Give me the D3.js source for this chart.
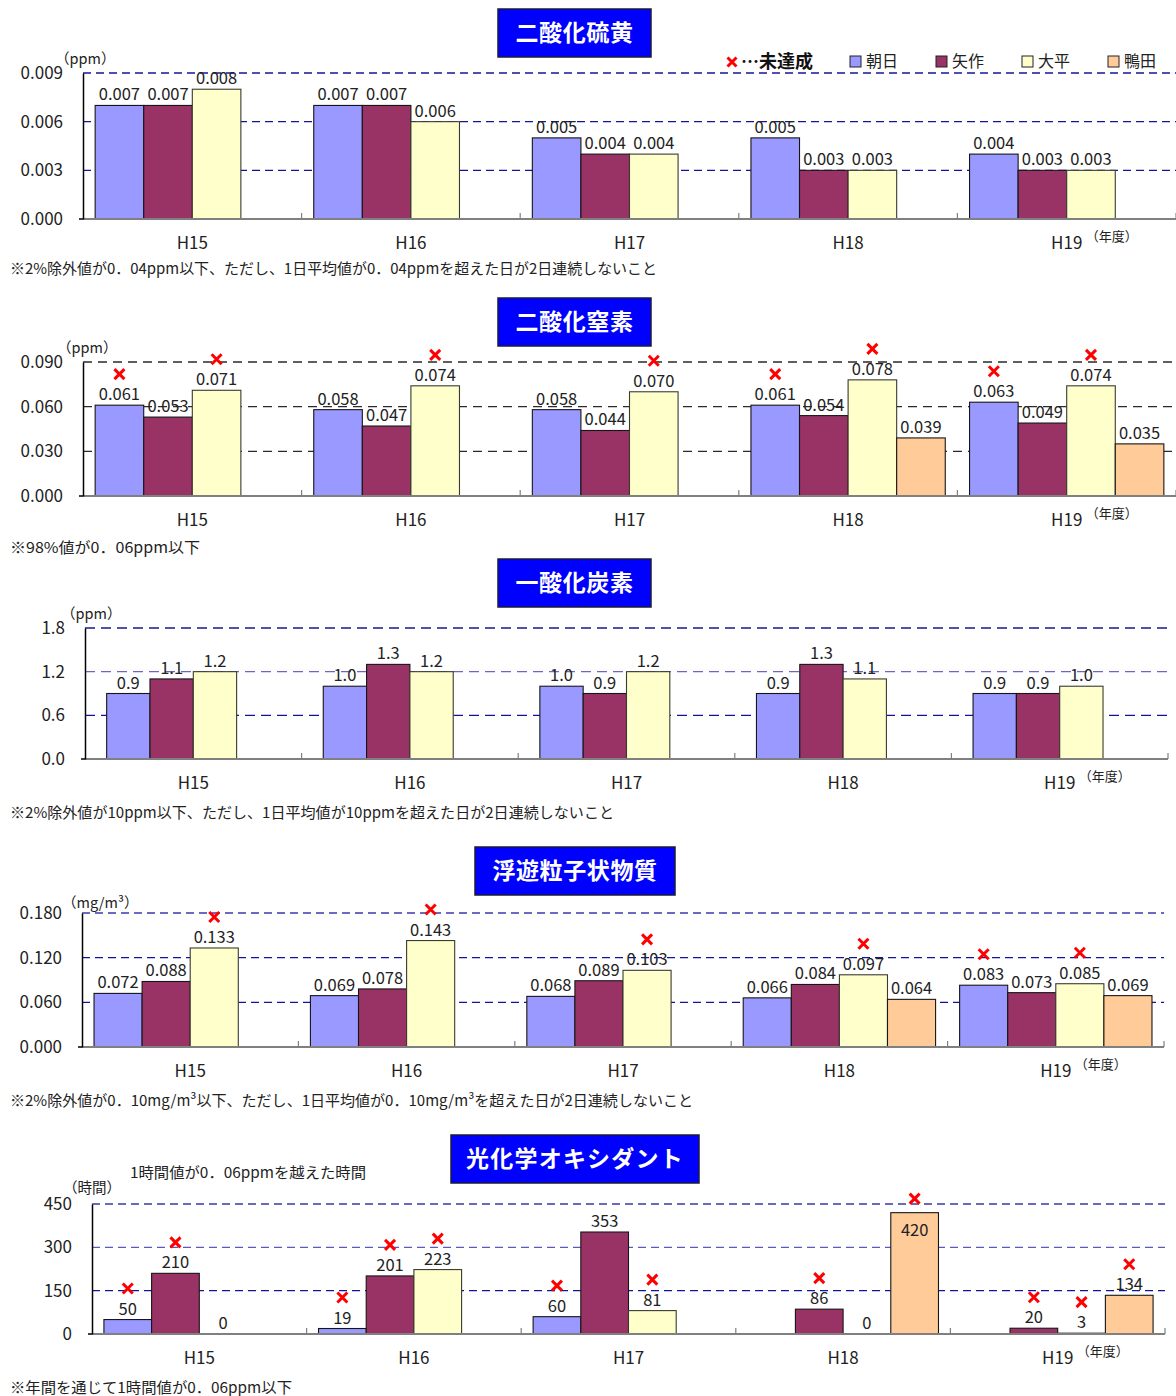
<!DOCTYPE html>
<html lang="ja">
<head>
<meta charset="utf-8">
<script src="https://cdn.jsdelivr.net/npm/d3@7"></script>
<style>
  body { margin: 0; background: #fff; }
  svg { display: block; }
  text { font-family: "Noto Sans CJK JP", "Noto Sans", sans-serif; }
</style>
</head>
<body>
<svg id="chart" width="1176" height="1396"></svg>
<script>
// ---- shared categories ----
const years = ["H15", "H16", "H17", "H18", "H19"];
const stations = ["朝日", "矢作", "大平", "鴨田"];
const stationColors = ["#9999FF", "#993366", "#FFFFCC", "#FFCC99"];

// ---- 二酸化硫黄 (ppm) ----
const so2Asahi  = [0.007, 0.007, 0.005, 0.005, 0.004];
const so2Yahagi = [0.007, 0.007, 0.004, 0.003, 0.003];
const so2Ohira  = [0.008, 0.006, 0.004, 0.003, 0.003];
const so2Kamoda = [null, null, null, null, null];
const so2Ticks  = [0, 0.003, 0.006, 0.009];
const so2Fail   = [[0,0,0,0,0], [0,0,0,0,0], [0,0,0,0,0], [0,0,0,0,0]];

// ---- 二酸化窒素 (ppm) ----
const no2Asahi  = [0.061, 0.058, 0.058, 0.061, 0.063];
const no2Yahagi = [0.053, 0.047, 0.044, 0.054, 0.049];
const no2Ohira  = [0.071, 0.074, 0.070, 0.078, 0.074];
const no2Kamoda = [null, null, null, 0.039, 0.035];
const no2Ticks  = [0, 0.030, 0.060, 0.090];
const no2Fail   = [[1,0,0,1,1], [0,0,0,0,0], [1,1,1,1,1], [0,0,0,0,0]];

// ---- 一酸化炭素 (ppm) ----
const coAsahi  = [0.9, 1.0, 1.0, 0.9, 0.9];
const coYahagi = [1.1, 1.3, 0.9, 1.3, 0.9];
const coOhira  = [1.2, 1.2, 1.2, 1.1, 1.0];
const coKamoda = [null, null, null, null, null];
const coTicks  = [0, 0.6, 1.2, 1.8];
const coFail   = [[0,0,0,0,0], [0,0,0,0,0], [0,0,0,0,0], [0,0,0,0,0]];

// ---- 浮遊粒子状物質 (mg/m3) ----
const spmAsahi  = [0.072, 0.069, 0.068, 0.066, 0.083];
const spmYahagi = [0.088, 0.078, 0.089, 0.084, 0.073];
const spmOhira  = [0.133, 0.143, 0.103, 0.097, 0.085];
const spmKamoda = [null, null, null, 0.064, 0.069];
const spmTicks  = [0, 0.060, 0.120, 0.180];
const spmFail   = [[0,0,0,0,1], [0,0,0,0,0], [1,1,1,1,1], [0,0,0,0,0]];

// ---- 光化学オキシダント (時間) ----
const oxAsahi  = [50, 19, 60, null, null];
const oxYahagi = [210, 201, 353, 86, 20];
const oxOhira  = [0, 223, 81, 0, 3];
const oxKamoda = [null, null, null, 420, 134];
const oxTicks  = [0, 150, 300, 450];
const oxFail   = [[1,1,1,0,0], [1,1,0,1,1], [0,1,1,0,1], [0,0,0,1,1]];

// ---- texts ----
const panelTitles = ["二酸化硫黄", "二酸化窒素", "一酸化炭素", "浮遊粒子状物質", "光化学オキシダント"];
const panelNotes = [
  "※2%除外値が0．04ppm以下、ただし、1日平均値が0．04ppmを超えた日が2日連続しないこと",
  "※98%値が0．06ppm以下",
  "※2%除外値が10ppm以下、ただし、1日平均値が10ppmを超えた日が2日連続しないこと",
  "※2%除外値が0．10mg/m³以下、ただし、1日平均値が0．10mg/m³を超えた日が2日連続しないこと",
  "※年間を通じて1時間値が0．06ppm以下"
];
const panelUnits = ["（ppm）", "（ppm）", "（ppm）", "（mg/m³）", "（時間）"];
const oxSubtitle = "1時間値が0．06ppmを越えた時間";
const legendFailText = "…未達成";
const yearUnit = "（年度）";

const svg = d3.select("#chart");
const NAVY = "#14149a";

function crossPath(s) {
  return `M${-s},${-s}L${s},${s}M${s},${-s}L${-s},${s}`;
}

function drawPanel(p) {
  const g = svg.append("g");
  const x0 = d3.scaleBand().domain(years).range([p.left, p.right]);
  const x1 = d3.scaleBand().domain(stations).range([0, x0.bandwidth()])
    .paddingInner(0).paddingOuter(p.gap / 2);
  const max = p.ticks[p.ticks.length - 1];
  const y = d3.scaleLinear().domain([0, max]).range([p.bottom, p.top]);
  const fmt = d3.format(p.fmt);

  // title box
  const tb = g.append("g").attr("transform", `translate(${p.box[0]},${p.box[1]})`);
  tb.append("rect").attr("width", p.box[2]).attr("height", p.box[3])
    .attr("fill", "#0000FF").attr("stroke", "#1a1a40").attr("stroke-width", 1.5);
  tb.append("text").attr("x", p.box[2] / 2).attr("y", p.box[3] / 2 + 8)
    .attr("text-anchor", "middle").attr("fill", "#fff")
    .attr("font-size", 23).attr("font-weight", 700)
    .attr("letter-spacing", p.titleSpacing).text(p.title);

  // dashed gridlines
  g.append("g").selectAll("line").data(p.ticks.slice(1)).join("line")
    .attr("x1", p.left).attr("x2", p.right)
    .attr("y1", d => y(d)).attr("y2", d => y(d))
    .attr("stroke", (d, i) => p.gridColors[i])
    .attr("stroke-width", 1.3)
    .attr("stroke-dasharray", p.dash);

  // bars
  const rows = years.map((yr, i) => ({
    year: yr,
    cells: stations.map((s, j) => ({ station: s, j, v: p.series[j][i], fail: p.fails[j][i] }))
  }));
  const groups = g.append("g").selectAll("g").data(rows).join("g")
    .attr("transform", d => `translate(${x0(d.year)},0)`);
  const cells = groups.selectAll("g").data(d => d.cells.filter(c => c.v !== null)).join("g");

  cells.append("rect")
    .attr("x", c => x1(c.station))
    .attr("width", x1.bandwidth())
    .attr("y", c => y(c.v))
    .attr("height", c => y(0) - y(c.v))
    .attr("fill", c => stationColors[c.j])
    .attr("stroke", c => c.j === 2 ? "#3a3a30" : "#161616")
    .attr("stroke-width", 1.1);

  const inside = c => c.v > 0.9 * max;

  cells.append("text")
    .attr("x", c => x1(c.station) + x1.bandwidth() / 2)
    .attr("y", c => inside(c) ? y(c.v) + 23 : y(c.v) - 5)
    .attr("text-anchor", "middle")
    .attr("font-size", 16.5).attr("fill", "#222")
    .text(c => fmt(c.v));

  cells.filter(c => c.fail).append("path")
    .attr("transform", c => `translate(${x1(c.station) + x1.bandwidth() / 2},${inside(c) ? y(c.v) - 14 : y(c.v) - 31})`)
    .attr("d", crossPath(5))
    .attr("stroke", "#FF0000").attr("stroke-width", 3).attr("fill", "none");

  // x axis line and category dividers
  g.append("line").attr("x1", p.left).attr("x2", p.right)
    .attr("y1", y(0)).attr("y2", y(0))
    .attr("stroke", "#808080").attr("stroke-width", 2);
  g.append("g").selectAll("line")
    .data(years.slice(1).map(d => x0(d)).concat([p.right]))
    .join("line")
    .attr("x1", d => d).attr("x2", d => d)
    .attr("y1", y(0)).attr("y2", y(0) - 6)
    .attr("stroke", "#808080").attr("stroke-width", 1.2);

  g.append("g").attr("transform", `translate(0,${y(0)})`)
    .call(d3.axisBottom(x0).tickSize(0).tickPadding(18))
    .call(a => a.select(".domain").remove())
    .call(a => a.selectAll("text")
      .attr("font-size", 17).attr("fill", "#222")
      .attr("font-family", "'Noto Sans CJK JP','Noto Sans',sans-serif"));

  g.append("text")
    .attr("x", x0("H19") + x0.bandwidth() / 2 + 19)
    .attr("y", y(0) + 22)
    .attr("font-size", 13).attr("fill", "#222")
    .text(yearUnit);

  // y axis
  g.append("g").attr("transform", `translate(${p.left},0)`)
    .call(d3.axisLeft(y).tickValues(p.ticks).tickFormat(d3.format(p.fmt)).tickSize(0).tickPadding(20))
    .call(a => a.select(".domain").attr("stroke", "#000").attr("stroke-width", 1.5))
    .call(a => a.selectAll("text")
      .attr("font-size", 17).attr("fill", "#222")
      .attr("font-family", "'Noto Sans CJK JP','Noto Sans',sans-serif"));
  g.append("line").attr("x1", p.left - 4).attr("x2", p.left)
    .attr("y1", y(0)).attr("y2", y(0)).attr("stroke", "#000").attr("stroke-width", 1.5);

  // unit label
  g.append("text").attr("x", p.unitPos[0]).attr("y", p.unitPos[1])
    .attr("font-size", 14.5).attr("fill", "#222").text(p.unit);

  // footnote
  g.append("text").attr("x", 10).attr("y", p.noteY)
    .attr("font-size", 15).attr("fill", "#222")
    .attr("textLength", p.noteW).attr("lengthAdjust", "spacingAndGlyphs")
    .text(p.note);
}

const panels = [
  { title: panelTitles[0], box: [498, 9, 153, 48], titleSpacing: 0.6,
    left: 83, right: 1176, top: 73, bottom: 219, ticks: so2Ticks, fmt: ".3f", gap: 0.5,
    series: [so2Asahi, so2Yahagi, so2Ohira, so2Kamoda], fails: so2Fail,
    gridColors: [NAVY, NAVY, NAVY], dash: "8,5",
    unit: panelUnits[0], unitPos: [55, 64], note: panelNotes[0], noteY: 274, noteW: 647 },
  { title: panelTitles[1], box: [498, 298, 153, 48], titleSpacing: 0.6,
    left: 83, right: 1176, top: 362, bottom: 496, ticks: no2Ticks, fmt: ".3f", gap: 0.5,
    series: [no2Asahi, no2Yahagi, no2Ohira, no2Kamoda], fails: no2Fail,
    gridColors: ["#2a2a2a", "#2a2a2a", "#2a2a2a"], dash: "9,6",
    unit: panelUnits[1], unitPos: [57, 353], note: panelNotes[1], noteY: 553, noteW: 190 },
  { title: panelTitles[2], box: [498, 559, 153, 48], titleSpacing: 0.6,
    left: 85, right: 1168, top: 628, bottom: 759, ticks: coTicks, fmt: ".1f", gap: 1.0,
    series: [coAsahi, coYahagi, coOhira, coKamoda], fails: coFail,
    gridColors: [NAVY, "#6868c0", NAVY], dash: "10,6",
    unit: panelUnits[2], unitPos: [61, 619], note: panelNotes[2], noteY: 818, noteW: 604 },
  { title: panelTitles[3], box: [475, 847, 200, 48], titleSpacing: 0.6,
    left: 82, right: 1164, top: 913, bottom: 1047, ticks: spmTicks, fmt: ".3f", gap: 0.5,
    series: [spmAsahi, spmYahagi, spmOhira, spmKamoda], fails: spmFail,
    gridColors: [NAVY, NAVY, "#3a3ab0"], dash: "8,5",
    unit: panelUnits[3], unitPos: [62, 908], note: panelNotes[3], noteY: 1106, noteW: 683 },
  { title: panelTitles[4], box: [451, 1135, 248, 48], titleSpacing: 1.2,
    left: 92, right: 1165, top: 1204, bottom: 1334, ticks: oxTicks, fmt: "d", gap: 0.5,
    series: [oxAsahi, oxYahagi, oxOhira, oxKamoda], fails: oxFail,
    gridColors: [NAVY, "#5a5ac0", "#3838a8"], dash: "8,5",
    unit: panelUnits[4], unitPos: [63, 1193], note: panelNotes[4], noteY: 1393, noteW: 282 }
];

panels.forEach(drawPanel);

// subtitle of the oxidant panel
svg.append("text").attr("x", 130).attr("y", 1178)
  .attr("font-size", 15).attr("fill", "#222")
  .attr("textLength", 236).attr("lengthAdjust", "spacingAndGlyphs")
  .text(oxSubtitle);

// legend
const legend = svg.append("g");
legend.append("path").attr("transform", "translate(732,62)")
  .attr("d", crossPath(4.5)).attr("stroke", "#FF0000").attr("stroke-width", 3).attr("fill", "none");
legend.append("text").attr("x", 741).attr("y", 68)
  .attr("font-size", 18).attr("font-weight", 700).attr("fill", "#111").text(legendFailText);
const items = legend.selectAll("g.item").data(stations).join("g")
  .attr("class", "item")
  .attr("transform", (d, i) => `translate(${850 + i * 86},56)`);
items.append("rect").attr("width", 11).attr("height", 11)
  .attr("fill", (d, i) => stationColors[i]).attr("stroke", "#222").attr("stroke-width", 1);
items.append("text").attr("x", 16).attr("y", 11)
  .attr("font-size", 16).attr("fill", "#222").text(d => d);
</script>
</body>
</html>
